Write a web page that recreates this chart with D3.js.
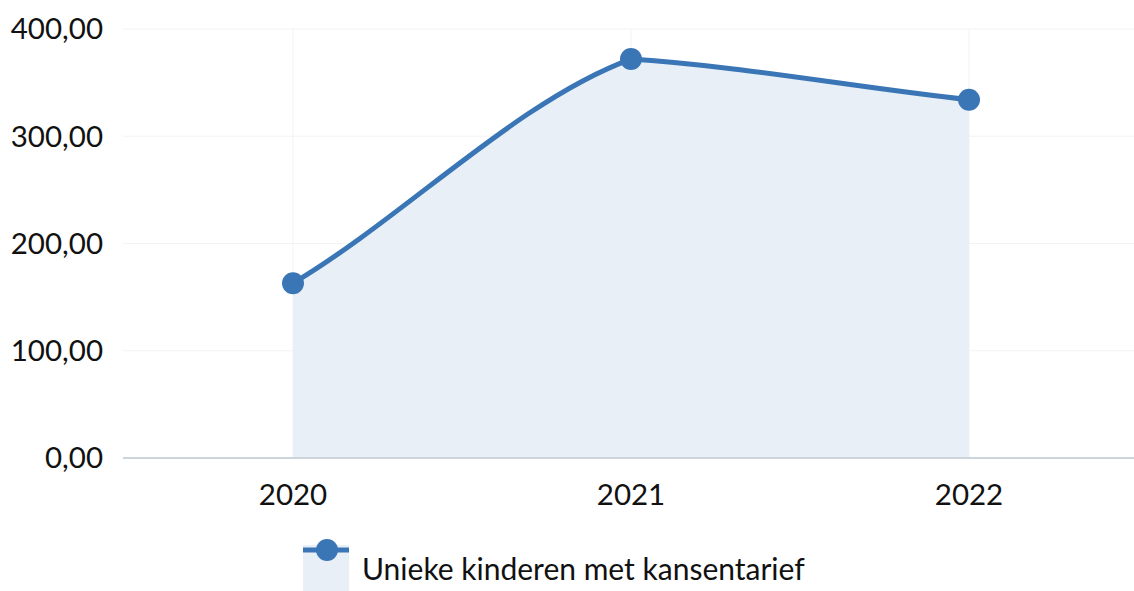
<!DOCTYPE html>
<html>
<head>
<meta charset="utf-8">
<script src="https://cdn.jsdelivr.net/npm/d3@7"></script>
<style>
  body { margin: 0; background: #fff; }
  svg { display: block; font-family: Lato, sans-serif; }
</style>
</head>
<body>
<svg id="chart" width="1134" height="591"></svg>
<script>
const years = ['2020', '2021', '2022']
const values = [163, 372, 334]
const yTicks = [0, 100, 200, 300, 400]
const seriesName = 'Unieke kinderen met kansentarief'

const width = 1134
const height = 591
const margin = { top: 29, right: 0, bottom: 133, left: 123 }
const color = '#3a76b5'
const fillColor = '#e8eff7'

// each segment is its own cubic; tangent = k * secant of that segment
// (k larger at the ends, smaller at inner points; joins sit under markers)
class SegmentCurve {
  constructor(context) {
    this._context = context
  }
  areaStart() {
    this._line = 0
  }
  areaEnd() {
    this._line = NaN
  }
  lineStart() {
    this._pts = []
  }
  point(x, y) {
    this._pts.push([+x, +y])
  }
  lineEnd() {
    const p = this._pts
    const ctx = this._context
    const n = p.length
    if (!n) return
    const k = (i) => (i === 0 || i === n - 1 ? 0.9 : 0.55)
    if (this._line) ctx.lineTo(p[0][0], p[0][1])
    else ctx.moveTo(p[0][0], p[0][1])
    for (let i = 1; i < n; i++) {
      const [x0, y0] = p[i - 1]
      const [x1, y1] = p[i]
      const dx = x1 - x0
      const dy = y1 - y0
      ctx.bezierCurveTo(
        x0 + dx / 3, y0 + (k(i - 1) * dy) / 3,
        x1 - dx / 3, y1 - (k(i) * dy) / 3,
        x1, y1,
      )
    }
    if (this._line || (this._line !== 0 && n === 1)) ctx.closePath()
    this._line = 1 - this._line
  }
}
const curveSegments = (context) => new SegmentCurve(context)

const svg = d3.select('#chart')

const x = d3.scalePoint()
  .domain(years)
  .range([124, 1138])
  .padding(0.5)

const y = d3.scaleLinear()
  .domain([0, 400])
  .range([height - margin.bottom, margin.top])

const fmt = (v) => d3.format('.2f')(v).replace('.', ',')

// grid lines
svg.append('g')
  .selectAll('line')
  .data(yTicks.slice(1))
  .join('line')
  .attr('x1', margin.left)
  .attr('x2', width)
  .attr('y1', (d) => y(d))
  .attr('y2', (d) => y(d))
  .style('stroke', '#f3f3f3')
  .style('stroke-width', 1)

svg.append('g')
  .selectAll('line')
  .data(years)
  .join('line')
  .attr('x1', (d) => x(d))
  .attr('x2', (d) => x(d))
  .attr('y1', margin.top)
  .attr('y2', y(0))
  .style('stroke', '#f3f3f3')
  .style('stroke-width', 1)

const data = years.map((yr, i) => ({ year: yr, value: values[i] }))

// area
svg.append('path')
  .datum(data)
  .attr('d', d3.area()
    .x((d) => x(d.year))
    .y0(y(0))
    .y1((d) => y(d.value))
    .curve(curveSegments))
  .style('fill', fillColor)

// baseline
svg.append('line')
  .attr('x1', margin.left)
  .attr('x2', width)
  .attr('y1', y(0))
  .attr('y2', y(0))
  .style('stroke', '#ccd4dc')
  .style('stroke-width', 2)

// y labels
svg.append('g')
  .selectAll('text')
  .data(yTicks)
  .join('text')
  .attr('x', 103)
  .attr('y', (d) => y(d))
  .attr('dy', '0.35em')
  .attr('text-anchor', 'end')
  .style('font-size', '29.5px')
  .style('fill', '#111')
  .text(fmt)

// x labels
svg.append('g')
  .selectAll('text')
  .data(years)
  .join('text')
  .attr('x', (d) => x(d))
  .attr('y', 505)
  .attr('text-anchor', 'middle')
  .style('font-size', '29.5px')
  .style('fill', '#111')
  .text((d) => d)

// line
svg.append('path')
  .datum(data)
  .attr('d', d3.line()
    .x((d) => x(d.year))
    .y((d) => y(d.value))
    .curve(curveSegments))
  .style('fill', 'none')
  .style('stroke', color)
  .style('stroke-width', 5)

svg.append('g')
  .selectAll('circle')
  .data(data)
  .join('circle')
  .attr('cx', (d) => x(d.year))
  .attr('cy', (d) => y(d.value))
  .attr('r', 11)
  .style('fill', color)

// legend
const lg = svg.append('g').attr('transform', 'translate(303,545)')
lg.append('rect')
  .attr('width', 46)
  .attr('height', 46)
  .style('fill', fillColor)
lg.append('line')
  .attr('x1', 0)
  .attr('x2', 46)
  .attr('y1', 5)
  .attr('y2', 5)
  .style('stroke', color)
  .style('stroke-width', 5)
lg.append('circle')
  .attr('cx', 24)
  .attr('cy', 5)
  .attr('r', 11)
  .style('fill', color)
lg.append('text')
  .attr('x', 59)
  .attr('y', 35)
  .style('font-size', '30px')
  .style('fill', '#111')
  .text(seriesName)
</script>
</body>
</html>
